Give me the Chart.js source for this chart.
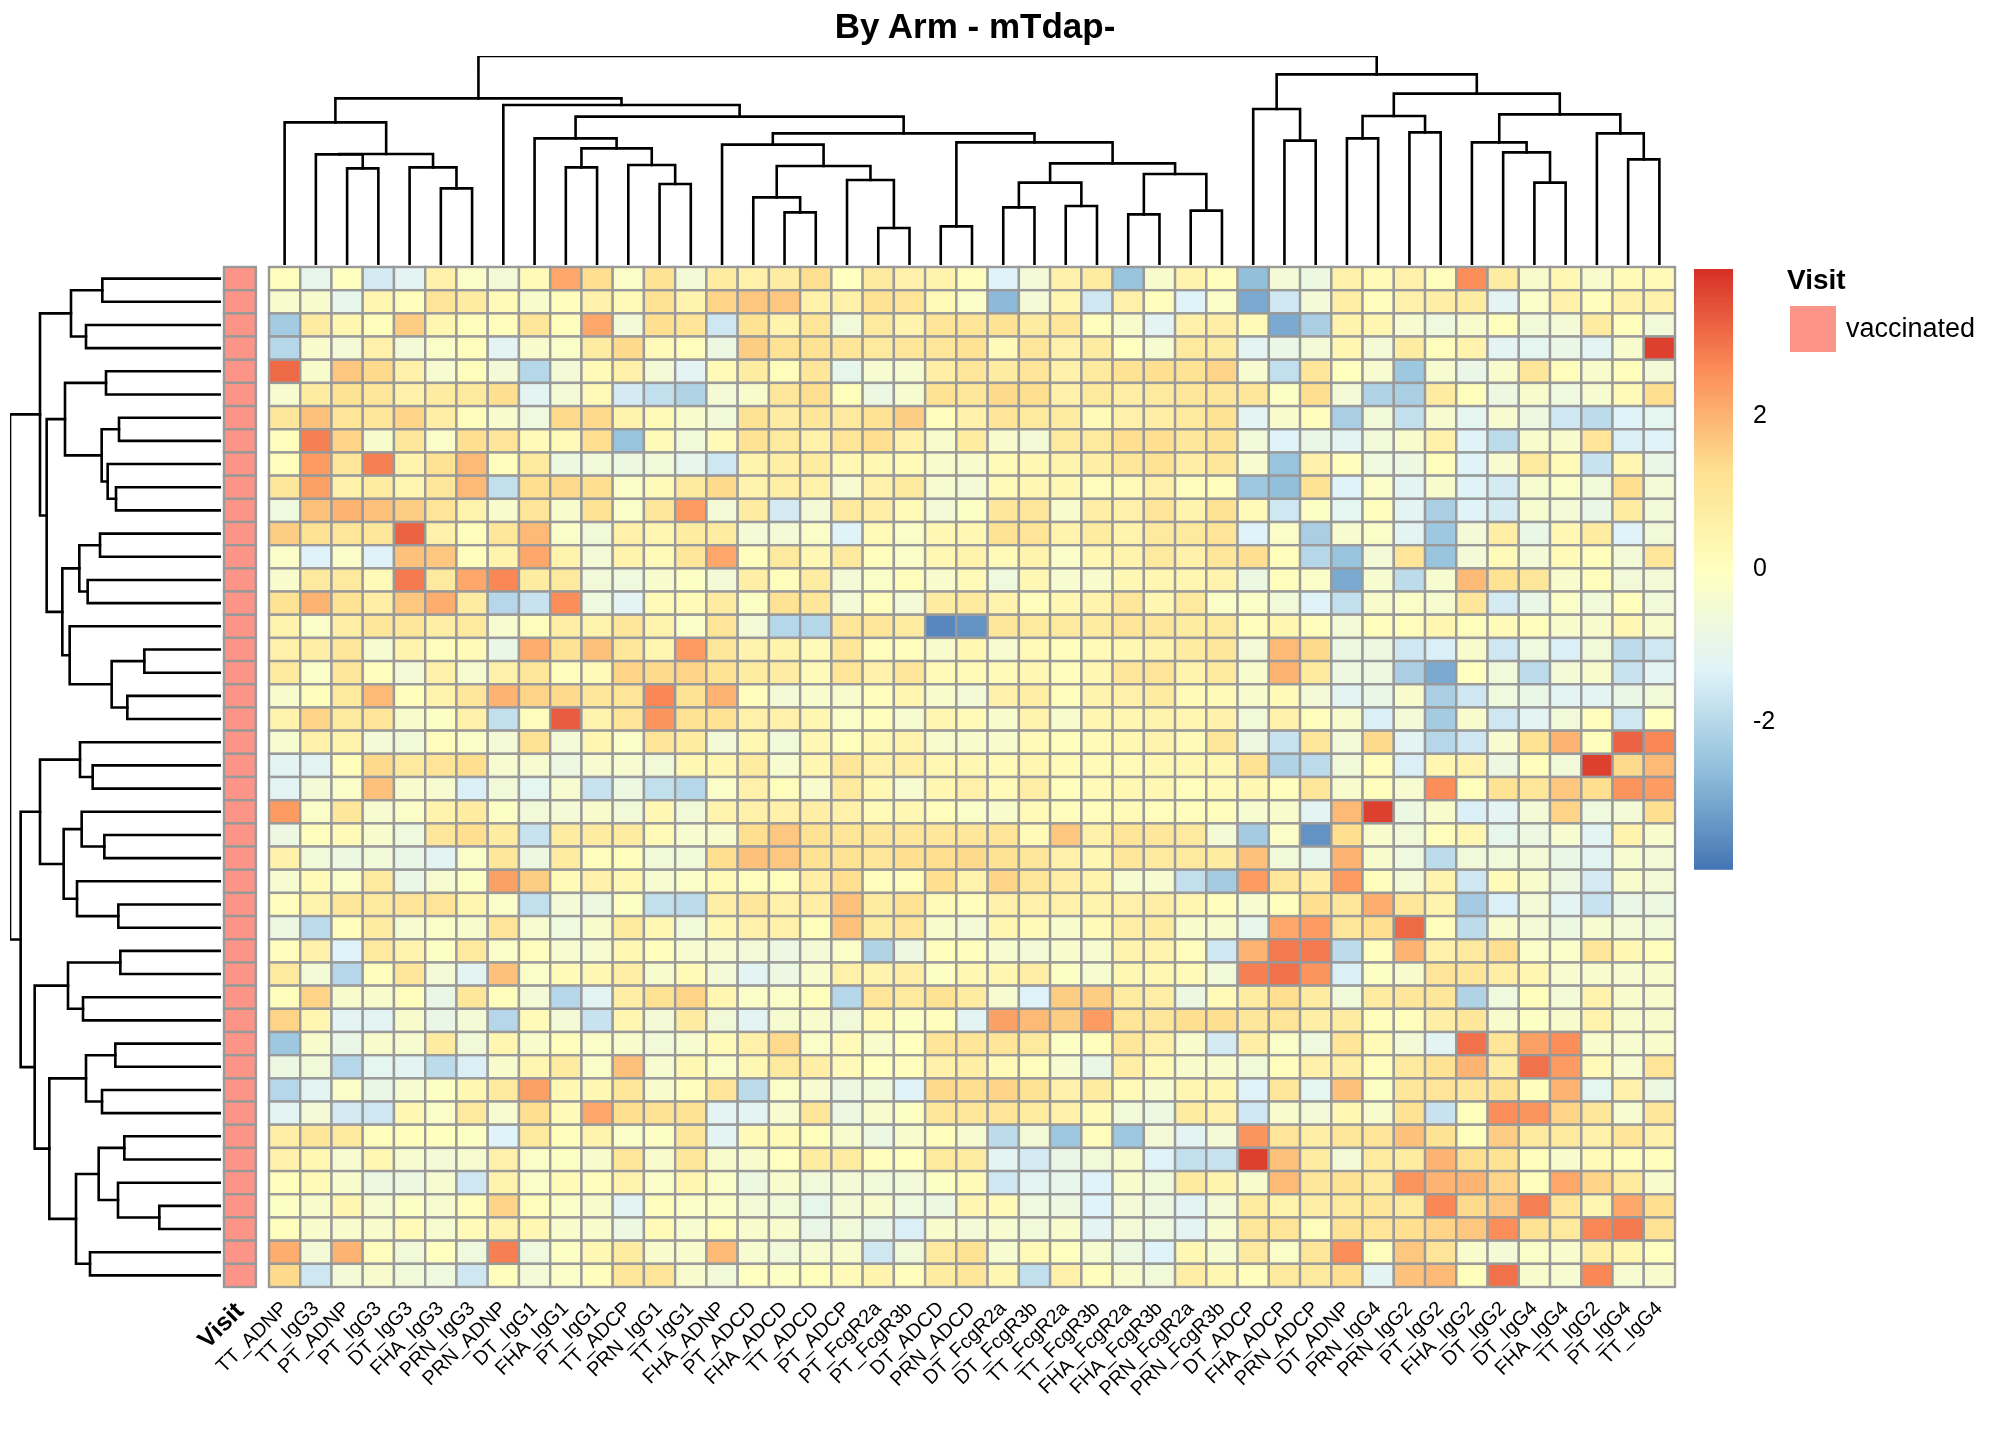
<!DOCTYPE html>
<html><head><meta charset="utf-8">
<script src="https://cdn.jsdelivr.net/npm/chart.js@4.4.1/dist/chart.umd.min.js"></script>
<style>
html,body{margin:0;padding:0;background:#fff;width:2016px;height:1440px;overflow:hidden;font-family:"Liberation Sans",Arial,sans-serif}
canvas{position:absolute;left:0;top:0}
.t{position:absolute;color:#000;white-space:nowrap}
</style></head><body>
<canvas id="cHeat" width="2016" height="1440"></canvas>
<canvas id="cCol" width="2016" height="1440"></canvas>
<canvas id="cRow" width="2016" height="1440"></canvas>
<canvas id="cBar" width="2016" height="1440"></canvas>
<div class="t" style="left:0;width:1950px;text-align:center;top:6px;font-size:35px;font-weight:bold">By Arm - mTdap-</div>
<div class="t" style="left:1787px;top:264px;font-size:28px;font-weight:bold">Visit</div>
<div style="position:absolute;left:1790px;top:306px;width:46px;height:46px;background:#FD9488"></div>
<div class="t" style="left:1846px;top:313px;font-size:27px">vaccinated</div>
<script>
const colLabels = ["TT_ADNP","TT_IgG3","PT_ADNP","PT_IgG3","DT_IgG3","FHA_IgG3","PRN_IgG3","PRN_ADNP","DT_IgG1","FHA_IgG1","PT_IgG1","TT_ADCP","PRN_IgG1","TT_IgG1","FHA_ADNP","PT_ADCD","FHA_ADCD","TT_ADCD","PT_ADCP","PT_FcgR2a","PT_FcgR3b","DT_ADCD","PRN_ADCD","DT_FcgR2a","DT_FcgR3b","TT_FcgR2a","TT_FcgR3b","FHA_FcgR2a","FHA_FcgR3b","PRN_FcgR2a","PRN_FcgR3b","DT_ADCP","FHA_ADCP","PRN_ADCP","DT_ADNP","PRN_IgG4","PRN_IgG2","PT_IgG2","FHA_IgG2","DT_IgG2","DT_IgG4","FHA_IgG4","TT_IgG2","PT_IgG4","TT_IgG4"];
const visit = Array(44).fill("vaccinated");
const values = [
[0.1,-1.0,0,-1.5,-1.2,0.6,-0.2,-0.5,0.2,2.2,1.3,-0.2,1.2,-0.5,0.8, 0.6,0.8,1.3,0.0,0.9,0.6,0.5,0.1,-1.3,-0.5,0.6,0.8,-2.5,-0.3,0.5, 0.1,-2.6,-0.5,-0.8,0.6,0.2,0.6,0.1,2.6,0.8,-0.3,0.3,-0.3,0.2,0.2],
[-0.3,-0.3,-1.0,0.4,0.1,1.1,0.8,0.2,-0.3,0.1,0.6,0.2,1.2,0.5,1.5, 1.7,1.7,0.6,0.6,1.2,1.1,0.2,-0.2,-2.7,-0.5,0.4,-1.6,0.6,0.1,-1.3, -0.2,-3.0,-1.6,-0.5,0.7,0.1,0.6,0.7,0.8,-1.2,-0.2,0.6,0.1,0.6,0.6],
[-2.3,0.8,0.4,0.1,1.6,0.4,0.1,0.1,1.0,0.1,2.2,-0.5,1.3,1.1,-1.6, 1.2,0.5,1.1,-0.6,0.9,0.5,1.1,1.1,1.2,0.8,1.0,0.1,-0.3,-1.2,0.6, 0.7,0.2,-3.0,-2.2,0.5,0.4,-0.4,-0.7,-0.3,0.1,-0.6,-0.5,0.8,0.1,-0.6],
[-2.0,-0.3,-0.5,0.6,-0.5,-0.2,0.1,-1.2,-0.3,-0.2,0.8,1.4,0.2,0.1,-0.8, 1.6,1.2,1.2,1.1,0.9,1.0,1.0,1.2,0.2,1.0,0.6,0.8,0.0,-0.4,0.9, 0.8,-1.2,-0.9,-0.5,0.4,-0.5,0.8,0.1,0.5,-1.2,-1.1,-0.9,-1.2,-0.3,3.7],
[3.1,-0.3,1.7,1.4,0.6,-0.4,0.1,-0.5,-2.0,-0.5,0.2,0.6,-0.5,-1.2,0.2, 0.8,0.1,1.0,-1.0,-0.4,-0.4,0.7,1.0,0.8,1.1,0.6,0.9,1.2,1.3,1.2, 1.5,-0.4,-1.8,1.0,0.0,-0.4,-2.4,-0.4,-0.9,-0.3,1.0,0.1,-0.3,0.1,-0.5],
[-0.4,0.8,1.2,1.0,0.6,0.8,0.9,1.3,-1.2,-0.5,0.2,-1.5,-1.8,-2.1,-0.5, -0.3,1.0,1.3,0.1,-0.8,-0.4,1.2,1.0,1.4,1.3,0.6,0.9,0.7,0.9,1.0, 1.0,1.0,-0.1,1.3,-0.5,-2.1,-2.2,0.8,0.1,-0.8,-0.3,-0.7,-0.4,0.2,1.3],
[1.0,1.8,1.1,1.0,1.5,0.7,0.1,-0.3,-0.7,1.4,1.4,0.5,0.2,-0.3,-0.6, 1.2,0.8,1.0,0.9,1.2,1.6,0.1,0.6,1.1,0.9,0.8,0.2,0.6,0.7,0.9, 1.2,-1.2,-0.3,0.1,-2.2,-0.6,-1.8,-0.4,-1.1,-0.4,-0.8,-1.6,-1.9,-1.3,-1.1],
[0.1,2.8,1.5,-0.3,1.0,-0.2,1.3,1.1,0.2,0.2,1.3,-2.5,0.2,-0.6,0.2, 1.2,0.9,0.6,1.1,1.3,0.6,-0.3,0.8,-0.3,-0.5,0.9,0.9,1.3,1.3,1.0, 1.2,-0.6,-1.3,-0.9,-1.2,-0.6,-0.3,0.6,-1.3,-1.9,-0.3,-0.3,1.1,-1.4,-1.3],
[0.1,2.4,1.0,2.8,0.5,1.2,1.9,0.1,0.9,-0.8,-0.6,-0.8,-0.6,-1.0,-1.6, 0.5,0.7,0.8,0.3,0.3,0.2,-0.3,-0.3,0.2,0.3,0.5,0.7,1.0,1.2,0.7, 1.0,-0.4,-2.5,0.6,0.1,-0.7,-0.8,0.1,-1.3,-0.4,0.9,0.2,-1.7,0.4,-0.9],
[1.0,2.3,0.6,0.8,0.4,1.0,1.9,-1.8,1.3,1.4,1.3,-0.2,0.2,0.9,1.4, 0.5,0.7,0.6,-0.4,0.6,0.9,-0.4,-0.5,0.2,0.3,0.3,0.1,0.2,0.6,0.1, 0.1,-2.4,-2.6,1.2,-1.3,-0.2,-1.2,-0.3,-1.3,-1.5,-0.4,-0.2,-0.6,1.3,-0.5],
[-0.7,1.8,2.0,1.8,1.6,1.1,0.5,-0.3,1.1,-0.3,1.2,-0.2,1.0,2.4,-0.5, 0.8,-1.5,-0.5,0.9,0.7,0.2,-0.5,-0.1,1.0,1.0,-0.3,0.7,0.6,1.1,0.5, 1.2,0.2,-1.6,-0.1,-1.1,0.1,-1.2,-2.2,-1.3,-1.5,-0.4,-0.5,-0.9,0.8,-0.6],
[1.6,1.2,1.0,1.0,3.2,0.6,0.1,1.0,1.9,-0.2,-0.6,0.6,0.4,0.8,0.8, -0.5,-0.5,-0.2,-1.3,0.2,-0.2,0.3,0.3,1.2,1.1,0.5,0.8,0.5,0.9,0.9, 1.1,-1.3,-0.2,-2.2,-0.4,-0.2,-1.2,-2.4,-0.5,0.7,-0.9,0.3,0.8,-1.3,-0.6],
[-0.2,-1.3,-0.2,-1.3,1.8,1.7,0.1,0.5,2.2,0.5,-0.5,0.5,0.2,1.0,2.2, 0.1,0.9,0.3,0.9,0.1,-0.2,0.3,0.5,0.2,0.5,-0.2,0.3,0.5,0.9,0.6, 1.0,1.3,0.1,-2.0,-2.5,-0.5,1.1,-2.5,-0.5,0.2,-0.5,0.2,0.1,-0.5,1.0],
[-0.3,0.9,0.9,0.2,2.9,0.9,2.2,2.7,0.8,0.9,-0.6,-0.7,-0.3,-0.1,-0.5, 0.7,0.1,0.8,-0.5,-0.2,0.1,-0.3,0.2,-0.7,0.3,-0.4,-0.3,0.3,0.4,0.4, 0.5,-0.8,0.1,-0.2,-3.0,-0.4,-1.9,-0.4,1.9,1.2,1.0,-0.3,0.1,-0.6,-0.5],
[1.2,2.0,1.2,0.7,1.7,2.1,0.8,-2.0,-1.7,2.6,-0.7,-1.2,0.2,0.2,0.8, -0.1,1.2,1.0,-0.5,0.1,-0.5,0.8,0.9,0.5,0.1,0.3,0.5,1.0,0.4,0.9, -0.2,-0.2,-0.6,-1.3,-1.8,-0.3,-0.2,-0.4,1.0,-1.5,-0.9,-0.2,-0.6,0.1,-0.6],
[0.5,-0.2,0.7,1.0,1.0,0.7,0.9,-0.4,0.1,0.7,0.5,1.0,0.5,-0.2,1.1, -0.5,-2.0,-2.0,1.0,1.0,0.8,-3.6,-3.4,1.0,0.9,0.9,0.8,1.1,1.0,0.8, 0.9,0.1,0.4,0.1,-0.5,0.1,0.1,0.4,0.1,0.2,0.1,-0.3,-0.3,0.3,-0.3],
[0.6,0.7,1.0,-0.4,0.5,0.1,0.2,-0.9,2.1,1.2,1.8,1.0,0.4,2.4,1.0, 0.5,0.5,0.2,1.0,0.1,0.1,-0.3,0.3,-0.4,0.2,0.1,0.2,0.3,0.5,0.8, 1.0,-0.5,1.9,1.4,-0.8,-0.8,-1.6,-1.4,-0.3,-1.6,-0.7,-1.4,-0.6,-1.9,-1.6],
[0.9,-0.2,1.0,0.1,-0.5,0.6,-0.4,0.6,1.0,0.1,0.2,1.5,1.4,1.5,1.2, 0.8,0.8,0.2,1.1,0.6,1.0,0.2,0.2,0.2,0.3,0.1,0.3,1.0,1.1,0.5, 0.9,-0.3,2.0,0.9,-0.8,-0.8,-2.2,-3.0,0.0,-0.6,-1.9,-0.5,-0.3,-1.7,-1.2],
[-0.3,0.1,0.9,1.9,0.1,0.5,1.0,2.0,1.5,1.4,1.0,1.1,2.7,1.2,2.0, 0.1,-0.5,-0.3,-0.3,0.1,0.4,-0.3,-0.5,0.6,0.7,0.1,0.5,0.6,0.8,0.2, 0.2,-0.3,0.2,-0.5,-1.2,-0.9,-0.3,-2.2,-1.6,-0.7,-0.9,-1.2,-1.2,-0.9,-0.6],
[0.5,1.5,0.9,1.1,-0.3,-0.1,0.6,-1.8,0.1,3.3,0.5,1.1,2.5,1.2,1.2, 0.6,0.6,0.4,-0.2,0.1,-0.4,0.4,0.2,-0.3,0.5,-0.3,0.4,0.4,0.5,0.4, 0.6,-0.6,0.6,0.1,-0.3,-1.4,-0.5,-2.3,-0.3,-1.6,-1.2,-0.6,0.1,-1.6,0.0],
[-0.4,0.6,0.5,-0.5,-0.6,0.1,-0.2,-0.5,1.2,-0.5,0.4,-0.2,1.1,0.8,-0.5, 0.3,-0.6,0.3,0.1,0.3,0.5,-0.3,-0.3,-0.3,0.2,0.1,0.2,0.3,0.5,0.2, 1.0,-0.8,-1.7,1.0,-0.5,1.4,-1.2,-2.0,-1.6,-0.4,1.2,2.0,0.1,3.2,2.7],
[-1.2,-1.2,0.1,1.4,0.9,1.1,1.3,-0.4,-0.4,-0.8,-0.4,-0.4,-0.6,0.3,0.4, 0.8,-0.4,0.4,1.0,0.6,0.7,0.3,0.3,0.2,0.4,0.2,0.2,0.2,0.3,0.3, 0.3,1.2,-2.1,-1.9,-0.6,0.1,-1.4,0.4,0.5,-0.8,0.1,-0.6,3.7,1.4,1.9],
[-1.2,-0.5,-0.2,1.8,-0.3,-0.4,-1.4,-0.6,-1.1,-0.4,-1.7,-0.8,-1.8,-2.0,-0.2, 0.6,0.1,-0.3,0.9,0.3,-0.4,0.4,0.6,0.2,0.7,0.1,0.2,0.3,0.3,0.1, 0.2,0.3,0.1,1.0,-0.3,0.1,-0.4,2.6,0.1,1.2,1.0,1.7,1.3,2.5,2.4],
[2.4,-0.2,1.0,-0.4,-0.2,0.5,0.8,-0.1,-0.6,-0.5,-0.3,-0.6,0.3,-0.6,0.5, 0.6,0.6,0.7,0.6,0.2,0.3,0.1,-0.2,-0.3,0.2,0.1,0.1,0.2,0.1,0.1, 0.1,-0.4,-0.3,-1.2,1.9,3.7,-0.8,-0.3,-1.4,-1.2,-0.5,1.5,-0.7,-0.5,1.3],
[-0.8,0.1,0.2,-0.3,-0.7,1.0,1.3,0.8,-1.7,0.8,0.8,0.8,0.2,-0.4,-0.3, 1.3,1.7,1.2,1.1,1.0,1.0,1.0,1.0,1.1,0.2,1.7,0.6,1.1,1.0,0.9, -0.5,-2.3,-0.2,-3.4,1.3,-0.3,-0.6,0.1,0.4,-1.0,-0.8,-0.4,-1.2,0.5,-0.3],
[0.6,-0.6,-0.8,-0.6,-0.9,-1.2,-0.2,1.0,-0.8,0.8,0.1,0.1,-0.6,-0.6,1.3, 1.8,1.7,1.2,1.2,1.0,1.3,1.3,1.4,1.2,1.0,0.6,0.3,1.0,0.9,0.9, 0.8,1.8,-0.6,-1.0,2.0,-0.3,-0.7,-1.9,-0.6,-0.6,-0.5,-0.9,-1.2,-0.4,-0.5],
[-0.4,0.2,-0.2,0.9,-0.9,-0.4,-0.1,2.3,1.6,0.2,0.6,0.3,-0.4,-0.2,0.2, 0.1,0.1,0.7,1.3,0.1,0.1,1.3,0.5,1.5,1.0,0.7,0.5,-0.4,-0.4,-1.8, -2.3,2.4,1.0,0.7,2.4,0.1,-0.5,0.5,-1.6,0.2,-0.3,-0.8,-1.5,-0.3,-0.5],
[0.1,0.5,1.0,0.9,1.1,1.1,0.4,-0.2,-1.8,-0.5,-0.8,-0.1,-1.8,-1.9,0.7, 1.0,0.6,0.7,1.8,0.8,1.2,0.2,0.1,0.6,0.6,0.6,0.5,0.6,0.7,0.4, 0.1,-0.4,0.1,1.3,1.0,2.1,1.0,0.5,-2.3,-1.4,-0.5,-1.2,-1.7,-0.9,-0.8],
[-0.8,-1.9,0.1,0.8,-0.4,-0.2,-0.3,1.1,-0.4,-0.7,-0.3,0.9,0.3,-0.6,0.3, 0.6,0.6,0.1,1.8,0.8,1.1,-0.3,-0.5,0.4,0.2,-0.3,0.2,0.7,0.8,-0.3, -0.3,-1.0,2.2,2.4,1.0,1.3,3.1,0.1,-1.9,-0.3,-0.5,-0.8,-0.4,-0.5,-0.6],
[0.1,0.6,-1.3,0.9,0.5,-0.1,0.9,-0.2,0.1,-0.4,-0.4,0.3,0.1,-0.4,-0.4, -0.5,-0.8,-0.5,-0.2,-2.1,-0.8,0.1,0.1,-0.4,-0.5,-0.3,-0.4,0.5,0.5,0.1, -1.6,2.0,2.9,2.9,-1.9,0.1,2.0,0.6,0.9,1.3,-0.2,-0.2,1.0,0.3,0.1],
[0.9,-0.5,-2.0,0.1,1.0,-0.5,-1.2,1.8,-0.2,0.2,0.3,0.7,-0.3,0.2,-0.5, -1.2,-0.8,-0.3,0.6,0.5,0.7,-0.1,0.3,0.4,0.7,-0.1,-0.4,0.3,0.3,0.2, -0.6,2.8,3.0,2.5,-1.4,-0.1,-0.3,1.1,1.0,0.7,0.4,-0.4,-0.3,-0.4,-0.3],
[0.1,1.5,-0.3,-0.3,0.1,-0.9,1.0,0.1,-0.5,-2.0,-1.2,0.7,1.2,1.5,0.4, -0.2,-0.2,0.1,-2.0,1.1,0.9,1.2,0.8,-0.4,-1.3,1.6,1.6,0.8,0.7,-0.8, 0.2,0.8,1.3,0.8,-0.6,0.8,1.0,1.0,-2.1,-0.7,0.1,-0.5,0.5,-0.3,-0.3],
[1.5,0.4,-1.2,-1.2,-0.3,-0.9,-0.5,-2.0,0.2,-0.5,-1.7,0.4,-0.5,0.8,-0.6, -1.2,-0.4,-0.3,-0.6,0.2,-0.1,0.1,-1.2,2.3,1.9,1.6,2.4,1.1,1.0,1.3, 1.3,1.0,1.1,0.7,0.8,0.1,0.1,0.7,1.0,-0.3,-0.1,-0.3,0.5,-0.3,-0.3],
[-2.4,-0.3,-0.9,-0.3,-0.4,0.8,-0.6,0.4,-0.3,0.1,-0.2,-0.3,-0.6,-0.4,0.2, 0.6,1.4,-0.2,0.2,-0.3,0.0,1.1,1.1,1.1,0.9,-0.1,0.1,1.0,0.6,-0.3, -1.5,0.7,-0.2,-0.7,1.1,0.2,-0.5,-1.2,3.0,1.1,2.3,2.6,-0.3,-0.4,-0.3],
[-0.8,-0.6,-2.0,-1.1,-1.2,-1.9,-1.4,-0.3,0.4,0.8,-0.2,1.8,-0.4,0.3,-0.2, 0.3,0.9,0.7,0.2,0.0,0.1,0.6,0.7,0.2,0.1,-0.4,-0.9,0.7,0.2,-0.3, -0.3,-0.6,0.1,0.6,0.7,0.1,0.9,1.2,2.0,0.8,3.0,2.4,0.2,-0.4,1.1],
[-2.0,-1.2,-0.2,-0.9,-0.4,-0.1,0.3,0.9,2.3,0.3,0.3,1.0,-0.3,0.1,1.1, -1.9,-0.2,-0.4,-0.8,-0.6,-1.3,1.4,1.3,1.5,1.2,0.6,0.8,0.2,-0.3,0.4, 0.4,-1.3,1.0,-1.1,1.8,-0.1,1.0,1.1,1.0,1.2,0.1,2.0,-1.1,0.6,-0.8],
[-1.2,-0.5,-1.5,-1.6,0.3,-0.2,0.9,-0.4,1.3,0.2,2.2,1.3,1.2,1.2,-1.2, -1.2,-0.4,1.0,-0.8,-0.3,-0.1,1.0,1.0,1.1,0.8,0.6,0.2,-0.6,-0.8,0.8, 0.6,-1.6,-0.3,-0.5,0.3,-0.3,1.2,-1.7,0.1,2.6,2.5,1.5,1.0,-0.4,1.0],
[0.7,1.0,0.9,0.1,0.1,0.0,-0.1,-1.3,0.9,0.1,0.5,-0.2,-0.1,1.0,-1.2, 0.2,0.2,0.1,-0.3,-0.8,-0.3,0.1,-0.4,-1.9,-0.5,-2.4,0.1,-2.4,-0.5,-1.2, -0.5,2.5,1.1,0.7,1.0,1.1,1.8,1.2,0.1,1.6,0.9,0.9,0.6,1.1,0.6],
[0.6,0.3,-0.4,0.3,-0.4,-0.5,-0.4,0.6,-0.2,-0.1,-0.3,1.0,-0.3,1.0,-0.3, -0.3,0.0,0.8,0.8,0.1,0.0,0.9,0.8,-1.2,-1.5,-0.9,-0.6,-0.3,-1.3,-1.8, -1.7,3.7,1.8,0.8,-0.5,0.8,0.8,2.0,1.3,1.2,0.1,-0.3,0.2,0.1,0.1],
[0.1,0.2,-0.3,-0.8,-0.8,-0.4,-1.6,0.5,-0.2,0.2,0.1,0.5,-0.2,0.4,-0.2, -0.8,-0.3,-0.6,-0.5,-0.6,-0.6,-0.1,0.2,-1.6,-1.2,-1.0,-1.3,-0.3,-0.6,0.9, 0.5,-0.3,1.9,1.0,1.2,0.9,2.5,2.0,2.0,1.5,0.1,2.2,1.5,0.9,-0.3],
[-0.1,-0.3,0.4,-0.4,-0.1,-0.4,0.1,1.5,0.1,-0.2,-0.3,-1.2,0.1,-0.2,-0.2, -0.5,-0.6,-1.0,-0.5,-0.3,-0.7,-0.8,0.4,0.2,-0.7,-0.8,-1.3,-0.5,-0.8,-1.2, -0.5,0.8,0.5,0.7,0.9,1.0,0.9,2.7,1.4,1.7,2.8,1.1,0.4,2.2,1.3],
[0.1,-0.3,-0.3,-0.3,0.2,-0.4,0.2,0.5,0.3,-0.3,-0.3,-0.8,0.2,-0.4,0.1, -0.3,-0.3,-0.9,-0.6,-0.9,-1.4,-0.3,-0.5,-0.4,-0.6,-0.3,-1.2,-0.5,-0.7,-1.2, -0.4,1.0,1.1,0.1,1.2,1.1,1.3,1.5,1.7,2.6,1.2,0.9,2.7,2.9,1.2],
[2.1,-0.5,2.0,0.1,-0.6,0.0,-0.7,2.8,-0.7,-0.1,0.3,0.8,-0.3,-0.3,1.9, -0.4,-0.6,-0.4,-0.3,-1.6,-0.6,0.9,1.2,-0.4,0.2,0.0,-0.4,-0.8,-1.3,0.3, -0.4,0.9,-0.2,1.0,2.6,0.1,1.7,1.1,-0.3,-0.5,-0.2,-0.3,0.7,0.4,0.0],
[1.4,-1.6,-0.5,-0.3,-0.6,-0.7,-1.6,0.1,-0.5,-0.2,0.1,1.0,1.1,-0.3,-0.6, 0.0,-0.1,0.1,0.2,0.5,0.1,0.8,1.0,0.4,-1.8,0.6,0.1,-0.3,-0.6,0.7, 0.4,0.1,0.9,0.9,1.3,-1.2,1.8,1.9,0.1,3.0,-0.3,-0.4,2.7,-0.4,-0.3]
];
const colTree = [627,
  [500,
    [428, 0, [333, [332, 1, [290,2,3]], [293, 4, [230,5,6]]]],
    [480, 7, [445,
      [380, 8, [350, [293,9,10], [300, 11, [243,12,13]]]],
      [395,
        [361, 14, [297, [203, 15, [158,16,17]], [255, 18, [111,19,20]]]],
        [368, [116,21,22], [305, [247,[173,23,24],[177,25,26]], [273,[152,27,28],[163,29,30]]]]]]]],
  [572, [468, 31, [373,32,33]],
    [514, [447, [380,34,35],[398,36,37]],
      [452, [368, 38, [338, 39, [247,40,41]]], [395, 42, [317,43,44]]]]]];
const rowTree = [633,
  [543, [450,[356,0,1],[405,2,3]],
    [523, [468,[345,4,5],[358,[306,6,7],[340,8,[315,9,10]]]],
      [476, [425,[363,11,12],[400,13,14]], [454,15,[328,[230,16,17],[281,18,19]]]]]],
  [601,
    [543, [423,20,[385,21,22]], [472,[418,23,[350,24,25]],[432,26,[308,27,28]]]],
    [559, [459,[302,29,30],[414,31,32]],
      [515, [405,[317,33,34],[357,35,36]],
        [435, [367,[290,37,38],[309,39,[185,40,41]]], [393,42,43]]]]]];
const legendTicks = [-2, 0, 2];
const vMin = -3.92, vMax = 3.92;
const palette = ["#4575B4","#91BFDB","#E0F3F8","#FFFFBF","#FEE090","#FC8D59","#D73027"];
const visitColors = {vaccinated: "#FD9488"};

function hex(c){return [1,3,5].map(i=>parseInt(c.substr(i,2),16));}
const pal = palette.map(hex);
function colorFor(v){
  let t=(v-vMin)/(vMax-vMin); t=Math.max(0,Math.min(1,t));
  const p=t*(pal.length-1), i=Math.min(pal.length-2,Math.floor(p)), f=p-i;
  const c=pal[i].map((a,k)=>Math.round(a+(pal[i+1][k]-a)*f));
  return `rgb(${c[0]},${c[1]},${c[2]})`;
}
Chart.defaults.font.family = '"Liberation Sans", Arial, sans-serif';
Chart.defaults.color = '#000';
const base = {responsive:false, animation:false, devicePixelRatio:1,
  plugins:{legend:{display:false}, tooltip:{enabled:false}}};

const heatPlugin = {id:'heat', beforeDatasetsDraw(chart){
  const {ctx, scales:{x,y}} = chart;
  ctx.save(); ctx.strokeStyle='#999999'; ctx.lineWidth=2.4;
  const cell=(x0,x1,r,fill)=>{
    const px0=x.getPixelForValue(x0), px1=x.getPixelForValue(x1);
    const py0=y.getPixelForValue(r), py1=y.getPixelForValue(r+1);
    ctx.fillStyle=fill; ctx.fillRect(px0,py0,px1-px0,py1-py0);
    ctx.strokeRect(px0,py0,px1-px0,py1-py0);
  };
  values.forEach((row,r)=>row.forEach((v,c)=>cell(c,c+1,r,colorFor(v))));
  visit.forEach((v,r)=>cell(-1.44,-0.42,r,visitColors[v]));
  ctx.restore();
}};
const tickVals=[-0.93].concat(colLabels.map((_,i)=>i+0.5));
const tickNames=["Visit"].concat(colLabels);
new Chart(document.getElementById('cHeat'),{type:'scatter',data:{datasets:[{data:[]}]},
  options:{...base, layout:{padding:{left:224,top:267,right:341,bottom:0}},
    scales:{
      x:{type:'linear',min:-1.44,max:45,grid:{display:false},border:{display:false},
        afterBuildTicks(s){s.ticks=tickVals.map(v=>({value:v}));},
        afterFit(s){s.height=153;},
        ticks:{autoSkip:false,minRotation:45,maxRotation:45,padding:2,color:'#000',
          font:(c)=>c.index===0?{size:25,weight:'bold'}:{size:20},
          callback:(v,i)=>tickNames[i]}},
      y:{type:'linear',min:0,max:44,reverse:true,display:false}}},
  plugins:[heatPlugin]});

function segs(tree, horiz){
  const out=[];
  function walk(n){
    if(typeof n==='number') return {p:n+0.5,h:0};
    const a=walk(n[1]), b=walk(n[2]);
    const pts = horiz
      ? [{x:a.h,y:a.p},{x:n[0],y:a.p},{x:n[0],y:b.p},{x:b.h,y:b.p}]
      : [{x:a.p,y:a.h},{x:a.p,y:n[0]},{x:b.p,y:n[0]},{x:b.p,y:b.h}];
    out.push(pts);
    return {p:(a.p+b.p)/2,h:n[0]};
  }
  walk(tree); return out;
}
const lineDs = s=>s.map(d=>({data:d,showLine:true,borderColor:'#000',borderWidth:2.6,pointRadius:0,borderCapStyle:'square'}));
new Chart(document.getElementById('cCol'),{type:'scatter',data:{datasets:lineDs(segs(colTree,false))},
  options:{...base, layout:{padding:{left:269,right:341,top:56,bottom:1175}},
    scales:{x:{type:'linear',min:0,max:45,display:false},y:{type:'linear',min:0,max:627,display:false}}}});
new Chart(document.getElementById('cRow'),{type:'scatter',data:{datasets:lineDs(segs(rowTree,true))},
  options:{...base, layout:{padding:{left:10,right:1795,top:267,bottom:153}},
    scales:{x:{type:'linear',min:0,max:633,reverse:true,display:false},y:{type:'linear',min:0,max:44,reverse:true,display:false}}}});

const barPlugin={id:'cbar',beforeDatasetsDraw(chart){
  const {ctx,chartArea:a,scales:{y}}=chart; const n=200;
  for(let i=0;i<n;i++){const v0=vMin+(vMax-vMin)*i/n, v1=vMin+(vMax-vMin)*(i+1)/n;
    const p0=y.getPixelForValue(v0), p1=y.getPixelForValue(v1);
    ctx.fillStyle=colorFor((v0+v1)/2); ctx.fillRect(a.left,p1,a.right-a.left,p0-p1+0.8);}
}};
new Chart(document.getElementById('cBar'),{type:'scatter',data:{datasets:[{data:[]}]},
  options:{...base, layout:{padding:{left:1694,top:269,bottom:571,right:223}},
    scales:{x:{type:'linear',display:false,min:0,max:1},
      y:{type:'linear',position:'right',min:vMin,max:vMax,grid:{display:false},border:{display:false},
        afterBuildTicks(s){s.ticks=legendTicks.map(v=>({value:v}));},
        afterFit(s){s.width=60;},
        ticks:{padding:12,font:{size:25},color:'#000'}}}},
  plugins:[barPlugin]});
</script>
</body></html>
